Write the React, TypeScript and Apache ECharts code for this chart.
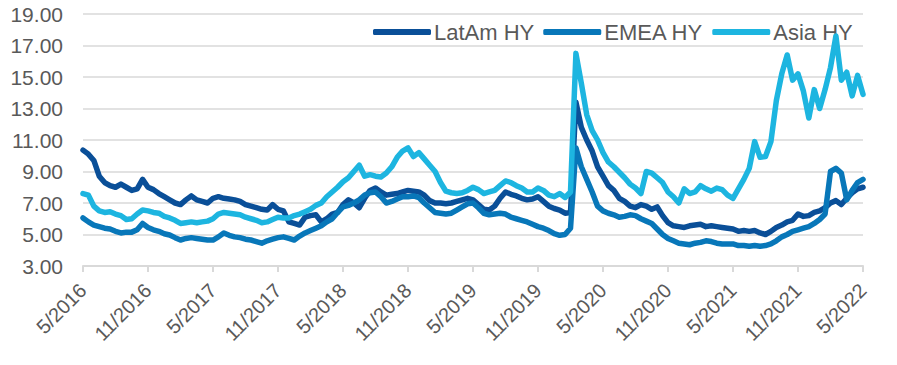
import React, { useEffect, useRef } from "react";
import * as echarts from "echarts";

// Tick labels on the x axis (every 6 months, 5/2016 .. 5/2022)
const TICK_LABELS = [
  "5/2016", "11/2016", "5/2017", "11/2017", "5/2018", "11/2018", "5/2019",
  "11/2019", "5/2020", "11/2020", "5/2021", "11/2021", "5/2022",
];
// Observations are semi-monthly, starting 5/2016 (month offset 0)
const STEP_MONTHS = 0.5;

const LATAM_HY = [
  10.36, 10.1, 9.7, 8.7, 8.3, 8.1, 8.0, 8.2, 8.0, 7.8, 7.9, 8.5, 8.0, 7.85, 7.6, 7.4,
  7.2, 7.0, 6.9, 7.2, 7.45, 7.2, 7.1, 7.0, 7.3, 7.4, 7.3, 7.25, 7.2, 7.1, 6.9, 6.8,
  6.7, 6.6, 6.55, 6.9, 6.6, 6.5, 5.8, 5.7, 5.6, 6.1, 6.2, 6.25, 5.8, 6.0, 6.3, 6.4,
  6.9, 7.2, 7.0, 6.7, 7.3, 7.8, 7.95, 7.7, 7.5, 7.55, 7.6, 7.7, 7.8, 7.75, 7.7, 7.5,
  7.15, 7.0, 7.0, 6.95, 7.0, 7.1, 7.2, 7.3, 7.2, 6.9, 6.6, 6.55, 6.8, 7.3, 7.7, 7.55,
  7.45, 7.3, 7.2, 7.25, 7.4, 7.1, 6.8, 6.65, 6.55, 6.35, 6.4, 13.4, 11.8, 11.0, 10.3, 9.3,
  8.7, 8.1, 7.8, 7.3, 7.1, 6.8, 6.7, 6.9, 6.8, 6.6, 6.75, 6.2, 5.75, 5.55, 5.5, 5.45,
  5.55, 5.6, 5.65, 5.5, 5.55, 5.5, 5.45, 5.4, 5.35, 5.2, 5.25, 5.2, 5.25, 5.1, 5.0, 5.2,
  5.45, 5.6, 5.8, 5.9, 6.3, 6.15, 6.2, 6.4, 6.5, 6.7, 7.0, 7.15, 6.9, 7.3, 7.65, 7.9,
  8.0,
];

const EMEA_HY = [
  6.05, 5.8, 5.6, 5.5, 5.4, 5.35, 5.2, 5.1, 5.15, 5.15, 5.3, 5.7, 5.45, 5.3, 5.2, 5.05,
  4.97, 4.8, 4.65, 4.75, 4.8, 4.75, 4.7, 4.65, 4.65, 4.85, 5.1, 4.95, 4.85, 4.8, 4.7, 4.65,
  4.55, 4.45, 4.6, 4.7, 4.8, 4.85, 4.75, 4.65, 4.9, 5.1, 5.25, 5.4, 5.55, 5.8, 6.0, 6.4,
  6.75, 6.85, 7.0, 7.2, 7.5, 7.65, 7.7, 7.4, 7.0, 7.1, 7.25, 7.4, 7.4, 7.45, 7.35, 7.0,
  6.7, 6.4, 6.35, 6.3, 6.35, 6.55, 6.75, 6.95, 7.0, 6.7, 6.35, 6.25, 6.3, 6.35, 6.3, 6.1,
  6.0, 5.9, 5.8, 5.65, 5.5, 5.4, 5.25, 5.05, 4.95, 5.0, 5.4, 10.5, 9.3, 8.5, 7.7, 6.8,
  6.5, 6.35, 6.25, 6.1, 6.15, 6.25, 6.2, 6.0, 5.85, 5.7, 5.35, 5.0, 4.75, 4.6, 4.45, 4.4,
  4.35, 4.45, 4.5, 4.6, 4.55, 4.45, 4.4, 4.4, 4.4, 4.3, 4.3, 4.25, 4.3, 4.25, 4.3, 4.4,
  4.6, 4.85, 5.0, 5.2, 5.3, 5.4, 5.5, 5.7, 5.95, 6.3, 9.0, 9.2, 8.9, 7.2, 7.8, 8.3,
  8.5,
];

const ASIA_HY = [
  7.6, 7.5, 6.8, 6.5, 6.4, 6.45, 6.3, 6.2, 5.95, 6.0, 6.3, 6.55, 6.5, 6.4, 6.35, 6.15,
  6.05, 5.9, 5.7, 5.75, 5.8, 5.75, 5.8, 5.85, 6.0, 6.3, 6.4, 6.35, 6.3, 6.25, 6.1, 6.0,
  5.9, 5.75, 5.8, 5.95, 6.1, 6.05, 6.05, 6.2, 6.3, 6.45, 6.6, 6.85, 7.0, 7.4, 7.7, 8.0,
  8.35, 8.6, 9.0, 9.4, 8.7, 8.8, 8.7, 8.65, 8.9, 9.3, 9.9, 10.3, 10.5, 9.95, 10.2, 9.8,
  9.4, 9.0, 8.3, 7.75, 7.65, 7.6, 7.65, 7.8, 8.0, 7.85, 7.6, 7.7, 7.8, 8.1, 8.4, 8.3,
  8.1, 7.95, 7.7, 7.7, 7.95, 7.8, 7.5, 7.4, 7.6, 7.35, 7.7, 16.5, 14.6, 12.6, 11.6, 11.0,
  10.2, 9.6, 9.3, 8.95, 8.6, 8.2, 7.95, 7.6, 9.0, 8.9, 8.6, 8.3, 7.7, 7.4, 7.0, 7.9,
  7.6, 7.7, 8.1, 7.9, 7.75, 7.95, 7.85, 7.5, 7.3, 7.9, 8.5, 9.2, 10.9, 9.9, 9.95, 10.9,
  13.5, 15.2, 16.4, 14.8, 15.2, 14.1, 12.4, 14.2, 13.0, 14.2, 15.6, 17.6, 14.8, 15.3, 13.8, 15.1,
  13.9,
];

const SERIES_NAMES = ["LatAm HY", "EMEA HY", "Asia HY"];
const COLORS = ["#0A4F98", "#0877B9", "#1DB5E0"];

const toPoints = (vals: number[]) => vals.map((v, i) => [i * STEP_MONTHS, v]);

export default function App() {
  const ref = useRef<HTMLDivElement>(null);
  useEffect(() => {
    if (!ref.current) return;
    const chart = echarts.init(ref.current, undefined, { renderer: "svg" });
    const font = "Liberation Sans, Arial, sans-serif";
    const all = [LATAM_HY, EMEA_HY, ASIA_HY];
    chart.setOption({
      animation: false,
      backgroundColor: "#ffffff",
      grid: { left: 83, right: 34, top: 14, bottom: 99, containLabel: false },
      legend: {
        left: 368,
        top: 16,
        itemWidth: 58,
        itemHeight: 6,
        itemGap: 9,
        icon: "roundRect",
        data: SERIES_NAMES,
        textStyle: { color: "#595959", fontSize: 22, fontFamily: font, padding: [0, 0, 0, -2] },
      },
      xAxis: {
        type: "value",
        min: 0,
        max: 72,
        interval: 6,
        axisLine: { show: true, lineStyle: { color: "#d9d9d9", width: 2 } },
        axisTick: { show: true, length: 6, lineStyle: { color: "#d9d9d9", width: 2 } },
        splitLine: { show: false },
        axisLabel: {
          rotate: 45,
          margin: 21,
          color: "#595959",
          fontSize: 20,
          fontFamily: font,
          formatter: (v: number) => TICK_LABELS[Math.round(v / 6)] ?? "",
        },
      },
      yAxis: {
        type: "value",
        min: 3,
        max: 19,
        interval: 2,
        axisLine: { show: false },
        axisTick: { show: false },
        splitLine: { lineStyle: { color: "#d9d9d9", width: 1.5 } },
        axisLabel: {
          margin: 20,
          color: "#595959",
          fontSize: 21,
          fontFamily: font,
          formatter: (v: number) => v.toFixed(2),
        },
      },
      series: SERIES_NAMES.map((name, k) => ({
        name,
        type: "line",
        data: toPoints(all[k]),
        showSymbol: false,
        symbol: "none",
        color: COLORS[k],
        lineStyle: { width: 5.5, color: COLORS[k], join: "round", cap: "round" },
        z: 2 + k,
      })),
    });
    return () => chart.dispose();
  }, []);
  return (
    <div
      ref={ref}
      style={{ position: "absolute", left: 0, top: 0, width: 897, height: 365 }}
    />
  );
}
